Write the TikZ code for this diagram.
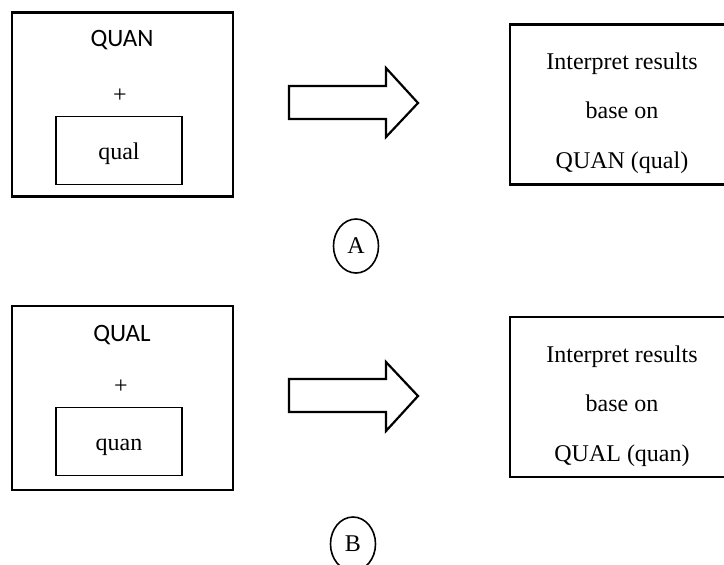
\documentclass[tikz,border=0pt]{standalone}
\usepackage{fontspec}
\setmainfont{Liberation Serif}
\newfontfamily\calibri{Carlito}
\usepackage{tikz}
\usetikzlibrary{shapes,shapes.geometric}

\begin{document}
\begin{tikzpicture}[
	x=0.5pt, y=-0.5pt,
	outerbox/.style={draw, line width=1.2pt, minimum width=110.5pt, minimum height=92pt, inner sep=0},
	innerbox/.style={draw, line width=0.9pt, minimum width=63pt, minimum height=34pt, inner sep=0, text height=9pt, text depth=0pt, font=\fontsize{12}{14}\selectfont},
	resultbox/.style={draw, line width=1.2pt, minimum width=109pt, minimum height=80pt, inner sep=0},
	restext/.style={align=center, inner sep=0, font=\fontsize{12}{24.75}\selectfont},
	heading/.style={anchor=base, inner sep=0, font=\fontsize{12.5}{15}\selectfont\calibri},
	plus/.style={inner sep=0, font=\fontsize{12}{14}\selectfont},
	tag/.style={ellipse, draw, line width=0.8pt, minimum width=22.5pt, minimum height=27pt, inner sep=0, font=\fontsize{12}{14}\selectfont},
	blockarrow/.style={draw, line width=1.1pt, line join=miter}
]
\useasboundingbox (0,0) rectangle (724,564);
\clip (0,0) rectangle (724,564);

% panel A
\node[outerbox] (quanA) at (122.5,104.5) {};
\node[heading] (quanAtxt) at (122,46) {QUAN};
\node[plus] (plusA) at (120,96) {+};
\node[innerbox] (qualA) at (119,150.5) {qual};

\draw[blockarrow] (289,86) -- (386,86) -- (386,68) -- (418,103) -- (386,137) -- (386,119) -- (289,119) -- cycle;

\node[resultbox] (resA) at (619,104.5) {};
\node[restext] (resAtxt) at (622,113) {Interpret results\\base on\\QUAN (qual)};

\node[tag] (tagA) at (356,246) {A};

% panel B
\node[outerbox] (qualB) at (122.5,398) {};
\node[heading] (qualBtxt) at (122,341) {QUAL};
\node[plus] (plusB) at (121,387) {+};
\node[innerbox] (quanB) at (119,441.5) {quan};

\draw[blockarrow] (289,379) -- (386,379) -- (386,362) -- (418,396) -- (386,431) -- (386,412) -- (289,412) -- cycle;

\node[resultbox] (resB) at (619,397) {};
\node[restext] (resBtxt) at (622,406) {Interpret results\\base on\\QUAL (quan)};

\node[tag] (tagB) at (353,544) {B};
\end{tikzpicture}
\end{document}
